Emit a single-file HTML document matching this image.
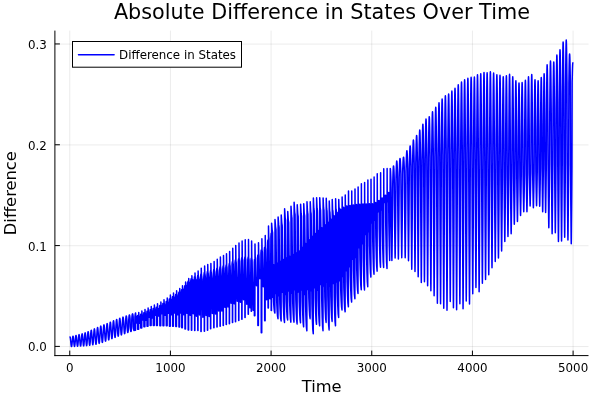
<!DOCTYPE html>
<html lang="en"><head><meta charset="utf-8"><title>Absolute Difference in States Over Time</title>
<style>html,body{margin:0;padding:0;background:#fff;}svg{display:block;}text{font-family:'DejaVu Sans','Liberation Sans',sans-serif;fill:#000;}</style></head><body>
<svg width="600" height="400" viewBox="0 0 600 400">
<rect width="600" height="400" fill="#fff"/>
<path d="M69.75 30.60V355.60M170.42 30.60V355.60M271.09 30.60V355.60M371.76 30.60V355.60M472.43 30.60V355.60M573.10 30.60V355.60M54.90 346.55H588.50M54.90 245.73H588.50M54.90 144.92H588.50M54.90 44.10H588.50" stroke="#000" stroke-opacity="0.08" stroke-width="1" fill="none"/>
<path d="M70.00 336.95L70.09 337.02L70.19 337.26L70.28 337.67L70.38 338.23L70.47 338.93L70.56 339.74L70.66 340.63L70.75 341.56L70.84 342.54L70.94 343.47L71.03 344.33L71.12 345.09L71.22 345.71L71.31 346.17L71.41 346.45L71.50 346.55L71.59 346.45L71.69 346.17L71.78 345.71L71.88 345.09L71.97 344.33L72.06 343.47L72.16 342.54L72.25 341.56L72.34 340.55L72.44 339.56L72.53 338.65L72.62 337.84L72.72 337.16L72.81 336.65L72.91 336.33L73.00 336.20L73.09 336.27L73.19 336.53L73.28 336.97L73.38 337.57L73.47 338.31L73.56 339.17L73.66 340.11L73.75 341.09L73.84 342.12L73.94 343.11L74.03 344.02L74.12 344.82L74.22 345.47L74.31 345.96L74.41 346.26L74.50 346.36L74.59 346.26L74.69 345.96L74.78 345.47L74.88 344.82L74.97 344.02L75.06 343.11L75.16 342.12L75.25 341.09L75.34 340.02L75.44 338.99L75.53 338.02L75.62 337.17L75.72 336.46L75.81 335.92L75.91 335.58L76.00 335.45L76.10 335.52L76.19 335.80L76.29 336.26L76.38 336.89L76.48 337.67L76.57 338.58L76.67 339.57L76.77 340.61L76.86 341.70L76.96 342.74L77.05 343.70L77.15 344.54L77.24 345.24L77.34 345.75L77.44 346.07L77.53 346.18L77.63 346.07L77.72 345.75L77.82 345.24L77.91 344.54L78.01 343.70L78.11 342.74L78.20 341.70L78.30 340.61L78.39 339.48L78.49 338.38L78.58 337.36L78.68 336.46L78.78 335.71L78.87 335.14L78.97 334.78L79.06 334.64L79.16 334.72L79.25 335.01L79.35 335.50L79.45 336.18L79.54 337.01L79.64 337.98L79.73 339.03L79.83 340.14L79.92 341.29L80.02 342.40L80.12 343.42L80.21 344.32L80.31 345.05L80.40 345.60L80.50 345.94L80.59 346.05L80.69 345.94L80.79 345.60L80.88 345.05L80.98 344.32L81.07 343.42L81.17 342.40L81.26 341.29L81.36 340.14L81.46 338.94L81.55 337.78L81.65 336.70L81.74 335.75L81.84 334.95L81.93 334.35L82.03 333.97L82.12 333.82L82.22 333.91L82.31 334.21L82.41 334.73L82.50 335.44L82.59 336.33L82.69 337.35L82.78 338.46L82.88 339.64L82.97 340.86L83.06 342.04L83.16 343.13L83.25 344.08L83.34 344.87L83.44 345.45L83.53 345.80L83.62 345.93L83.72 345.80L83.81 345.45L83.91 344.87L84.00 344.08L84.09 343.13L84.19 342.04L84.28 340.86L84.38 339.64L84.47 338.36L84.56 337.12L84.66 335.96L84.75 334.94L84.84 334.09L84.94 333.45L85.03 333.04L85.12 332.88L85.22 332.96L85.31 333.27L85.41 333.81L85.50 334.56L85.59 335.48L85.69 336.55L85.78 337.72L85.88 338.95L85.97 340.25L86.06 341.50L86.16 342.65L86.25 343.66L86.34 344.49L86.44 345.11L86.53 345.48L86.62 345.61L86.72 345.48L86.81 345.11L86.91 344.49L87.00 343.66L87.09 342.65L87.19 341.50L87.28 340.25L87.38 338.95L87.47 337.59L87.56 336.27L87.66 335.03L87.75 333.94L87.84 333.03L87.94 332.33L88.03 331.89L88.12 331.72L88.22 331.79L88.32 332.12L88.42 332.68L88.52 333.47L88.61 334.44L88.71 335.57L88.81 336.82L88.91 338.14L89.00 339.53L89.10 340.88L89.20 342.12L89.30 343.20L89.39 344.09L89.49 344.75L89.59 345.16L89.69 345.30L89.79 345.16L89.88 344.75L89.98 344.09L90.08 343.20L90.18 342.12L90.27 340.88L90.37 339.53L90.47 338.14L90.57 336.66L90.66 335.22L90.76 333.87L90.86 332.68L90.96 331.68L91.05 330.92L91.15 330.43L91.25 330.23L91.35 330.32L91.45 330.68L91.54 331.29L91.64 332.14L91.74 333.20L91.84 334.42L91.93 335.76L92.03 337.17L92.13 338.66L92.23 340.09L92.32 341.41L92.42 342.57L92.52 343.51L92.62 344.22L92.71 344.65L92.81 344.80L92.91 344.65L93.01 344.22L93.11 343.51L93.20 342.57L93.30 341.41L93.40 340.09L93.50 338.66L93.59 337.17L93.69 335.61L93.79 334.09L93.89 332.67L93.98 331.41L94.08 330.36L94.18 329.56L94.28 329.05L94.38 328.85L94.47 328.95L94.57 329.33L94.67 329.99L94.77 330.89L94.87 332.01L94.97 333.31L95.07 334.73L95.17 336.23L95.27 337.81L95.37 339.32L95.47 340.71L95.57 341.94L95.67 342.94L95.77 343.69L95.87 344.14L95.97 344.30L96.07 344.14L96.17 343.69L96.27 342.94L96.37 341.94L96.47 340.71L96.57 339.32L96.67 337.81L96.77 336.23L96.87 334.58L96.96 332.98L97.06 331.49L97.16 330.16L97.26 329.06L97.36 328.22L97.46 327.69L97.56 327.47L97.66 327.58L97.76 327.97L97.86 328.65L97.96 329.58L98.06 330.73L98.16 332.07L98.26 333.53L98.36 335.07L98.46 336.69L98.56 338.25L98.66 339.68L98.76 340.94L98.86 341.97L98.96 342.73L99.06 343.20L99.16 343.36L99.26 343.20L99.36 342.73L99.46 341.97L99.55 340.94L99.65 339.68L99.75 338.25L99.85 336.69L99.95 335.07L100.05 333.38L100.15 331.74L100.25 330.21L100.35 328.85L100.45 327.72L100.55 326.86L100.65 326.31L100.75 326.10L100.85 326.21L100.95 326.63L101.05 327.33L101.15 328.29L101.25 329.48L101.35 330.86L101.45 332.37L101.55 333.95L101.65 335.60L101.75 337.19L101.85 338.66L101.95 339.94L102.04 341.00L102.14 341.78L102.24 342.26L102.34 342.43L102.44 342.26L102.54 341.78L102.64 341.00L102.74 339.94L102.84 338.66L102.94 337.19L103.04 335.60L103.14 333.95L103.24 332.23L103.34 330.56L103.44 329.00L103.54 327.63L103.64 326.48L103.74 325.61L103.84 325.06L103.94 324.85L104.04 324.96L104.14 325.38L104.24 326.08L104.34 327.04L104.44 328.23L104.54 329.61L104.63 331.12L104.73 332.70L104.83 334.35L104.93 335.94L105.03 337.41L105.13 338.69L105.23 339.75L105.33 340.53L105.43 341.01L105.53 341.18L105.63 341.01L105.73 340.53L105.83 339.75L105.93 338.69L106.03 337.41L106.13 335.94L106.23 334.35L106.33 332.70L106.43 330.98L106.53 329.31L106.63 327.75L106.73 326.38L106.83 325.23L106.93 324.36L107.03 323.81L107.12 323.60L107.22 323.71L107.32 324.11L107.42 324.80L107.52 325.76L107.62 326.94L107.72 328.31L107.82 329.82L107.92 331.40L108.02 333.07L108.12 334.66L108.22 336.14L108.32 337.43L108.42 338.49L108.52 339.28L108.62 339.76L108.72 339.93L108.82 339.76L108.92 339.28L109.02 338.49L109.12 337.43L109.22 336.14L109.32 334.66L109.42 333.07L109.52 331.40L109.62 329.66L109.71 327.97L109.81 326.39L109.91 325.00L110.01 323.83L110.11 322.95L110.21 322.38L110.31 322.16L110.41 322.27L110.51 322.68L110.61 323.38L110.71 324.35L110.81 325.55L110.91 326.93L111.01 328.46L111.11 330.06L111.21 331.74L111.31 333.36L111.41 334.85L111.51 336.15L111.61 337.22L111.71 338.02L111.81 338.51L111.91 338.68L112.01 338.51L112.11 338.02L112.21 337.22L112.30 336.15L112.40 334.85L112.50 333.36L112.60 331.74L112.70 330.06L112.80 328.30L112.90 326.59L113.00 325.00L113.10 323.59L113.20 322.41L113.30 321.52L113.40 320.95L113.50 320.72L113.60 320.84L113.70 321.26L113.79 321.98L113.89 322.97L113.99 324.19L114.09 325.60L114.18 327.14L114.28 328.76L114.38 330.45L114.48 332.08L114.57 333.58L114.67 334.89L114.77 335.97L114.87 336.77L114.96 337.26L115.06 337.43L115.16 337.26L115.26 336.77L115.36 335.97L115.45 334.89L115.55 333.58L115.65 332.08L115.75 330.45L115.84 328.76L115.94 327.00L116.04 325.30L116.14 323.71L116.23 322.31L116.33 321.14L116.43 320.25L116.53 319.69L116.62 319.47L116.72 319.59L116.82 320.01L116.92 320.73L117.02 321.72L117.11 322.94L117.21 324.35L117.31 325.89L117.41 327.51L117.50 329.20L117.60 330.83L117.70 332.33L117.80 333.64L117.89 334.72L117.99 335.52L118.09 336.01L118.19 336.18L118.29 336.01L118.38 335.52L118.48 334.72L118.58 333.64L118.68 332.33L118.77 330.83L118.87 329.20L118.97 327.51L119.07 325.75L119.16 324.05L119.26 322.46L119.36 321.06L119.46 319.89L119.55 319.00L119.65 318.44L119.75 318.22L119.85 318.35L119.95 318.77L120.05 319.50L120.16 320.49L120.26 321.71L120.36 323.13L120.46 324.67L120.56 326.29L120.66 327.98L120.77 329.60L120.87 331.09L120.97 332.40L121.07 333.47L121.17 334.27L121.27 334.76L121.38 334.93L121.48 334.76L121.58 334.27L121.68 333.47L121.78 332.40L121.88 331.09L121.98 329.60L122.09 327.98L122.19 326.29L122.29 324.55L122.39 322.86L122.49 321.28L122.59 319.89L122.70 318.74L122.80 317.86L122.90 317.31L123.00 317.10L123.10 317.20L123.20 317.55L123.30 318.16L123.41 319.01L123.51 320.08L123.61 321.33L123.71 322.76L123.81 324.88L123.91 327.23L124.02 328.82L124.12 330.23L124.22 331.43L124.32 332.39L124.42 333.10L124.52 333.53L124.62 333.68L124.73 333.53L124.83 333.10L124.93 332.39L125.03 331.43L125.13 330.23L125.23 328.82L125.34 327.23L125.44 324.88L125.54 322.63L125.64 321.04L125.74 319.63L125.84 318.40L125.95 317.39L126.05 316.64L126.15 316.16L126.25 315.97L126.35 316.05L126.45 316.33L126.54 316.82L126.64 317.51L126.74 318.40L126.84 319.47L126.93 320.76L127.03 323.70L127.13 326.97L127.23 328.42L127.32 329.63L127.42 330.62L127.52 331.40L127.62 331.97L127.71 332.31L127.81 332.43L127.91 332.31L128.01 331.97L128.11 331.40L128.20 330.62L128.30 329.63L128.40 328.42L128.50 326.97L128.59 323.70L128.69 320.61L128.79 319.18L128.89 317.95L128.98 316.91L129.08 316.08L129.18 315.46L129.28 315.07L129.38 314.91L129.47 314.96L129.57 315.18L129.67 315.56L129.77 316.12L129.86 316.84L129.96 317.75L130.06 318.89L130.16 322.77L130.25 327.05L130.35 328.32L130.45 329.31L130.55 330.10L130.64 330.71L130.74 331.14L130.84 331.40L130.94 331.49L131.04 331.40L131.13 331.14L131.23 330.71L131.33 330.10L131.43 329.31L131.52 328.32L131.62 327.05L131.72 322.77L131.82 318.72L131.91 317.43L132.01 316.37L132.11 315.50L132.21 314.81L132.30 314.30L132.40 313.98L132.50 313.85L132.60 313.89L132.70 314.05L132.79 314.36L132.89 314.79L132.99 315.38L133.09 316.13L133.18 317.11L133.28 321.72L133.38 326.91L133.48 328.02L133.57 328.84L133.67 329.47L133.77 329.95L133.87 330.28L133.96 330.48L134.06 330.55L134.16 330.48L134.26 330.28L134.36 329.95L134.45 329.47L134.55 328.84L134.65 328.02L134.75 326.91L134.84 321.72L134.94 316.95L135.04 315.84L135.14 314.97L135.23 314.28L135.33 313.73L135.43 313.34L135.53 313.09L134.51 330.24L135.50 330.24L135.62 312.99L135.83 316.51L136.11 318.01L136.43 317.86L136.68 323.00L137.13 317.86L137.33 318.01L137.58 315.41L137.64 329.30L138.63 329.30L138.75 312.43L138.95 315.83L139.23 317.06L139.56 316.91L139.81 323.29L140.27 316.91L140.47 317.06L140.72 314.20L140.78 328.05L141.75 328.05L141.88 311.07L142.08 314.50L142.36 315.74L142.68 315.60L142.94 319.93L143.41 315.60L143.61 315.63L143.86 312.77L143.92 326.80L144.88 326.80L145.00 309.57L145.20 313.04L145.48 314.35L145.81 314.21L146.07 320.17L146.54 314.21L146.74 314.16L146.99 311.31L147.05 326.18L148.00 326.18L148.12 308.07L148.33 311.57L148.61 312.96L148.93 312.82L149.20 317.20L149.68 312.82L149.88 312.70L150.13 309.86L150.19 325.55L151.13 325.55L151.25 306.57L151.45 310.11L151.73 311.57L152.06 311.43L152.33 318.00L152.81 311.43L153.01 311.23L153.26 308.41L153.32 325.55L154.25 325.55L154.38 305.07L154.58 308.70L154.86 310.31L155.18 310.17L155.46 315.20L155.95 310.17L156.15 309.98L156.40 307.17L156.46 325.55L157.38 325.55L157.50 303.82L157.70 307.39L157.98 308.86L158.31 308.72L158.72 315.96L159.33 308.72L159.53 308.24L159.78 305.45L159.85 325.80L160.75 325.80L160.88 301.95L161.08 305.51L161.36 306.97L161.69 306.83L161.97 313.71L162.47 306.83L162.67 306.20L162.92 303.41L162.99 325.80L163.88 325.80L164.00 299.82L164.20 303.47L164.48 305.08L164.81 304.95L165.17 315.25L165.74 304.95L165.94 304.33L166.19 301.55L166.29 325.80L167.13 325.80L167.25 297.95L167.45 301.47L167.73 302.82L168.06 302.69L168.38 313.20L168.91 302.69L169.11 301.66L169.36 298.90L169.46 326.18L170.25 326.18L170.38 295.07L170.57 298.77L170.86 300.43L171.19 300.30L171.53 314.74L172.08 300.30L172.28 299.45L172.53 296.70L172.63 326.18L173.38 326.18L173.50 292.95L173.70 296.67L173.98 298.35L174.32 298.22L174.68 312.90L175.26 298.22L175.46 297.26L175.71 294.53L175.80 326.55L176.50 326.55L176.62 290.70L176.82 294.46L177.11 296.21L177.44 296.08L177.83 314.70L178.43 296.08L178.63 295.06L178.88 292.33L178.97 327.05L179.63 327.05L179.75 288.45L179.95 292.17L180.23 293.81L180.57 293.68L180.79 312.90L181.22 293.68L181.42 292.43L181.67 289.72L181.77 327.80L182.38 327.80L182.50 285.70L182.70 288.88L182.99 289.50L183.32 289.38L183.75 314.79L184.39 288.89L184.59 288.33L184.84 285.63L184.97 329.05L185.50 329.05L185.62 281.95L185.82 285.13L186.11 285.75L186.45 285.63L186.91 313.18L187.60 282.72L187.80 282.84L188.05 281.29L188.19 329.93L188.63 329.93L188.75 278.57L188.94 281.76L189.24 282.38L189.57 282.26L190.08 315.16L190.82 279.89L191.02 280.00L191.27 278.45L191.41 330.30L191.75 330.30L191.88 275.70L192.07 279.08L192.36 280.00L192.70 279.89L193.26 313.81L193.97 279.89L194.24 279.35L194.49 276.78L194.64 330.55L194.88 330.55L195.00 272.95L195.19 277.43L195.49 279.36L195.83 279.90L196.43 316.13L197.13 279.90L197.42 278.16L197.71 275.62L197.81 330.55L198.00 330.55L198.12 270.95L198.31 276.25L198.62 278.17L198.96 279.90L199.58 315.07L200.27 279.90L200.56 276.52L200.88 274.00L200.93 331.43L201.13 331.43L201.25 268.20L201.44 274.48L201.74 276.40L202.08 279.61L202.83 317.20L203.65 279.61L203.94 275.13L204.25 272.61L204.31 331.18L204.50 331.18L204.62 266.07L204.81 273.08L205.12 275.00L205.46 279.28L206.08 315.40L206.77 279.28L207.06 274.10L207.38 271.58L207.43 330.24L207.63 330.24L207.75 264.57L207.94 272.05L208.24 273.97L208.58 278.97L209.20 316.54L209.90 278.97L210.19 273.30L210.50 270.78L210.56 328.68L210.75 328.68L210.88 263.45L211.06 271.35L211.37 273.27L211.71 278.90L212.39 313.58L213.15 278.90L213.44 272.14L213.75 269.62L213.81 327.80L214.00 327.80L214.12 261.57L214.31 270.22L214.62 272.14L214.96 278.90L215.58 314.05L216.27 278.90L216.56 270.72L216.88 268.20L216.93 327.05L217.13 327.05L217.25 259.20L217.44 268.80L217.74 270.72L218.08 278.90L218.70 310.91L219.40 278.90L219.69 269.37L220.00 266.85L220.06 326.18L220.25 326.18L220.38 256.95L220.56 267.45L220.87 269.37L221.21 278.90L221.83 310.96L222.52 278.90L222.81 268.47L223.13 265.95L223.18 325.55L223.38 325.55L223.50 255.45L223.69 266.55L223.99 268.47L224.33 278.90L224.89 307.20L225.52 278.90L225.81 267.50L226.13 264.97L226.18 324.55L226.38 324.55L226.50 253.82L226.69 265.57L226.99 267.50L227.33 278.90L227.95 307.04L228.65 278.90L228.94 266.14L229.25 263.62L229.31 323.68L229.50 323.68L229.62 251.57L229.81 264.27L230.12 266.19L230.46 279.02L231.08 303.24L231.77 279.02L232.06 264.17L232.38 261.65L232.43 322.43L232.63 322.43L232.75 248.20L232.94 262.37L233.24 264.29L233.58 279.32L234.14 303.78L234.77 279.32L235.06 262.64L235.38 260.12L235.43 321.80L235.63 321.80L235.75 245.45L235.94 260.85L236.24 262.76L236.58 279.64L237.27 301.23L238.02 279.64L238.31 261.26L238.63 258.75L238.68 320.55L238.88 320.55L239.00 242.95L239.19 259.47L239.49 261.39L239.83 279.96L240.45 302.26L241.15 279.96L241.44 260.19L241.75 257.67L241.81 319.30L242.00 319.30L242.12 240.95L242.31 258.40L242.62 260.32L242.96 280.27L243.58 299.72L244.27 280.27L244.56 259.57L244.88 257.05L244.93 317.43L245.13 317.43L245.25 239.70L245.44 257.77L245.74 259.69L246.08 280.59L246.77 304.32L247.52 280.59L247.81 259.54L248.13 257.02L248.18 314.30L248.38 314.30L248.50 239.45L248.69 257.75L248.99 259.67L249.33 280.91L249.95 307.84L250.65 280.91L250.94 260.65L251.25 258.13L251.21 311.18L251.50 311.18L251.62 241.07L251.82 258.17L252.11 260.15L252.45 281.55L253.15 310.18L253.99 281.55L254.28 262.02L254.53 259.42L254.38 315.80L254.88 315.80L255.00 244.07L255.20 256.50L255.48 258.63L255.81 276.61L256.49 285.77L257.38 276.61L257.58 257.78L257.83 254.97L257.88 325.55L258.38 325.55L258.50 242.82L258.70 253.56L258.98 255.75L259.30 271.76L259.93 278.73L260.75 271.76L260.95 252.95L261.20 250.06L261.25 332.68L261.75 332.68L261.88 238.82L262.08 250.25L262.36 252.44L262.68 270.07L263.30 286.71L264.13 270.07L264.33 250.08L264.58 247.19L264.67 320.80L265.13 320.80L265.25 235.45L265.45 247.37L265.73 249.56L266.05 268.32L266.64 299.85L267.42 268.32L267.62 242.91L267.87 240.02L268.08 308.05L268.38 308.05L268.50 225.95L268.72 236.30L268.97 238.76L269.28 266.36L269.90 298.79L270.70 266.36L270.90 236.56L271.15 233.28L271.20 310.55L271.50 310.55L271.62 223.20L272.17 230.12L272.60 232.81L272.98 264.47L272.38 264.47L272.38 297.14L273.46 264.47L273.46 297.14L273.59 301.91L273.81 305.09L274.07 308.28L274.42 311.46L274.88 313.05L275.00 219.45L275.55 226.81L275.97 229.48L276.35 262.73L275.75 262.73L275.75 293.49L276.58 262.73L276.58 293.49L276.71 301.04L276.94 306.08L277.19 311.12L277.55 316.16L278.00 318.68L278.12 216.95L278.67 224.63L279.09 227.28L279.47 261.07L278.88 261.07L278.88 295.86L279.71 261.07L279.71 295.86L279.84 303.38L280.06 308.39L280.32 313.41L280.67 318.42L281.13 320.93L281.25 215.07L281.79 223.01L282.21 225.65L282.59 259.33L282.00 259.33L282.00 292.21L283.08 259.33L283.08 292.21L283.21 301.28L283.44 307.32L283.69 313.36L284.05 319.40L284.50 322.43L284.62 208.82L285.16 217.56L285.58 220.19L285.96 257.60L285.38 257.60L285.38 294.56L286.21 257.60L286.21 294.56L286.34 302.17L286.56 307.24L286.82 312.32L287.17 317.39L287.63 319.93L287.75 211.57L288.28 219.99L288.70 222.59L289.08 255.88L288.50 255.88L288.50 290.93L289.46 255.88L289.46 290.93L289.59 300.30L289.81 306.55L290.07 312.80L290.42 319.05L290.88 322.18L291.00 206.32L291.53 215.46L291.95 218.05L292.32 254.17L291.75 254.17L291.75 293.29L292.58 254.17L292.58 293.29L292.71 301.95L292.94 307.73L293.19 313.51L293.55 319.29L294.00 322.18L294.12 202.32L294.65 212.04L295.07 214.61L295.44 252.48L294.88 252.48L294.88 289.66L295.71 252.48L295.71 289.66L295.84 299.94L296.06 306.79L296.32 313.65L296.67 320.50L297.13 323.93L297.25 204.70L297.78 214.07L298.19 216.63L298.56 250.73L298.00 250.73L298.00 292.01L299.08 250.73L299.08 292.01L299.21 301.25L299.44 307.41L299.69 313.56L300.05 319.72L300.50 322.80L300.62 204.20L301.14 213.69L301.55 216.20L301.92 246.98L301.38 246.98L301.38 290.11L302.21 246.98L302.21 290.11L302.34 301.12L302.56 308.46L302.82 315.79L303.17 323.13L303.63 326.80L303.75 203.82L304.26 213.47L304.66 215.92L305.03 243.26L304.50 243.26L304.50 294.55L305.46 243.26L305.46 294.55L305.59 305.43L305.81 312.68L306.07 319.93L306.42 327.18L306.88 330.80L307.00 201.70L307.50 211.72L307.90 214.11L308.26 239.47L307.75 239.47L307.75 289.38L308.71 239.47L308.71 289.38L308.84 298.17L309.06 304.03L309.32 309.89L309.67 315.75L310.13 318.68L310.25 201.70L310.74 211.61L311.13 213.95L311.49 235.98L311.00 235.98L311.00 290.80L311.83 235.98L311.83 290.80L311.96 303.66L312.19 312.24L312.44 320.81L312.80 329.39L313.25 333.68L313.38 197.95L313.86 208.68L314.25 210.96L314.60 233.14L314.12 233.14L314.12 287.80L315.08 233.14L315.08 287.80L315.21 298.75L315.44 306.05L315.69 313.35L316.05 320.65L316.50 324.30L316.62 197.82L317.10 208.47L317.48 210.69L317.83 230.31L317.38 230.31L317.38 290.13L318.21 230.31L318.21 290.13L318.34 300.83L318.56 307.97L318.82 315.10L319.17 322.23L319.63 325.80L319.75 197.82L320.21 208.24L320.59 210.41L320.94 227.44L320.50 227.44L320.50 284.41L321.58 227.44L321.58 284.41L321.71 298.33L321.94 307.60L322.19 316.88L322.55 326.16L323.00 330.80L323.12 197.95L323.58 208.00L323.95 210.11L324.29 224.60L323.88 224.60L323.88 285.88L324.71 224.60L324.71 285.88L324.84 296.85L325.06 304.15L325.32 311.46L325.67 318.77L326.13 322.43L326.25 198.20L326.66 208.94L327.02 210.81L327.35 221.92L327.00 221.92L327.00 282.02L327.71 221.92L327.71 282.02L327.84 296.39L328.06 305.97L328.32 315.55L328.67 325.13L329.13 329.93L329.25 201.01L329.62 210.78L329.96 212.42L330.27 218.95L330.00 218.95L330.00 285.91L330.71 218.95L330.71 285.91L330.84 296.57L331.06 303.67L331.32 310.77L331.67 317.87L332.13 321.43L332.25 199.45L332.58 209.62L332.90 211.00L333.19 215.76L333.00 215.76L333.00 283.51L334.08 215.76L334.08 283.51L334.21 296.20L334.44 304.66L334.69 313.11L335.05 321.57L335.50 325.80L335.62 198.82L335.91 208.50L336.21 209.63L336.48 212.51L336.38 212.51L336.38 281.99L337.21 212.51L337.21 281.99L337.34 292.62L337.56 299.71L337.82 306.79L338.17 313.88L338.63 317.43L338.75 199.45L338.99 207.31L339.27 208.17L339.52 209.26L339.50 209.26L339.50 280.63L340.58 209.26L340.58 280.63L340.71 289.42L340.94 295.28L341.19 301.14L341.55 307.00L342.00 309.93L342.12 196.95L342.32 206.04L342.57 206.61L342.80 207.46L342.88 207.46L342.88 276.57L343.71 207.46L343.71 276.57L343.84 287.14L344.06 294.19L344.32 301.23L344.67 308.28L345.13 311.80L345.25 195.07L345.40 205.25L345.62 205.53L345.84 205.99L346.00 205.99L346.00 270.83L346.96 205.99L346.96 270.83L347.09 281.62L347.31 288.82L347.57 296.01L347.92 303.20L348.38 306.80L348.50 190.95L348.60 205.38L348.80 205.38L349.00 205.38L349.25 205.38L349.25 266.63L350.21 205.38L350.21 266.63L350.34 277.26L350.56 284.34L350.82 291.43L351.17 298.51L351.63 302.05L351.75 190.95L351.85 205.00L352.05 205.00L352.25 205.00L352.50 205.00L352.50 259.30L353.46 205.00L353.46 259.30L353.59 271.11L353.81 278.99L354.07 286.86L354.42 294.74L354.88 298.68L355.00 189.07L355.10 204.61L355.30 204.61L355.50 204.61L355.75 204.61L355.75 257.59L356.58 204.61L356.58 257.59L356.71 268.34L356.94 275.51L357.19 282.67L357.55 289.84L358.00 293.43L358.12 186.95L358.23 204.23L358.43 204.23L358.62 204.23L358.88 204.23L358.88 247.72L359.83 204.23L359.83 247.72L359.96 260.31L360.19 268.70L360.44 277.09L360.80 285.48L361.25 289.68L361.38 183.82L361.48 204.08L361.68 204.08L361.88 204.08L362.12 204.08L362.12 243.83L363.08 204.08L363.08 243.83L363.21 257.66L363.44 266.88L363.69 276.10L364.05 285.32L364.50 289.93L364.62 182.57L364.73 203.95L364.93 203.95L365.12 203.95L365.38 203.95L365.38 234.62L366.33 203.95L366.33 234.62L366.46 250.27L366.69 260.71L366.94 271.15L367.30 281.58L367.75 286.80L367.88 180.07L367.98 203.82L368.18 203.82L368.38 203.82L368.62 203.82L368.62 231.82L369.46 203.82L369.46 231.82L369.59 245.39L369.81 254.44L370.07 263.48L370.42 272.53L370.88 277.05L371.00 179.20L371.10 203.67L371.30 203.67L371.50 203.67L371.75 203.67L371.75 223.02L372.58 203.67L372.58 223.02L372.71 238.40L372.94 248.66L373.19 258.92L373.55 269.17L374.00 274.30L374.12 176.95L374.23 202.42L374.43 202.42L374.62 202.42L374.88 202.42L374.88 220.18L375.71 202.42L375.71 220.18L375.84 235.48L376.06 245.68L376.32 255.88L376.67 266.08L377.13 271.18L377.25 173.82L377.35 200.59L377.55 200.59L377.75 200.59L378.00 200.59L378.00 211.75L379.08 200.59L379.08 211.75L379.21 228.38L379.44 239.46L379.69 250.55L380.05 261.63L380.50 267.18L380.62 172.82L380.73 198.09L380.93 198.09L381.12 198.09L381.38 198.09L381.38 210.10L382.21 198.09L382.21 210.10L382.34 227.30L382.56 238.76L382.82 250.23L383.17 261.69L383.63 267.43L383.75 168.82L383.85 195.26L384.05 195.26L384.25 195.26L384.50 195.26L384.50 202.46L385.58 195.26L385.58 202.46L385.71 222.25L385.94 235.44L386.19 248.64L386.55 261.83L387.00 268.43L387.12 168.57L387.23 192.40L387.43 192.41L387.63 192.49L387.88 192.49L387.88 201.69L388.71 192.49L388.71 201.69L388.84 221.30L389.06 234.37L389.32 247.44L389.67 260.51L390.25 168.57L390.35 168.83L390.45 169.74L390.55 171.29L390.66 173.42L390.76 176.05L390.86 179.09L390.96 182.42L391.06 189.08L391.16 203.58L391.27 214.47L391.37 224.50L391.47 233.34L391.57 241.06L391.67 248.77L391.77 256.70L391.88 260.55L391.98 256.70L392.08 248.77L392.18 241.06L392.28 233.34L392.38 224.50L392.48 214.47L392.59 203.58L392.69 189.08L392.79 182.13L392.89 178.46L392.99 175.05L393.09 172.03L393.20 169.52L393.30 167.62L393.40 166.41L393.50 165.95L393.60 166.08L393.70 166.79L393.80 168.07L393.91 169.86L394.01 172.13L394.11 174.77L394.21 177.71L394.31 183.29L394.41 197.74L394.52 209.27L394.62 219.89L394.72 229.25L394.82 237.41L394.92 245.58L395.02 253.97L395.12 258.05L395.23 253.97L395.33 245.58L395.43 237.41L395.53 229.25L395.63 219.89L395.73 209.27L395.84 197.74L395.94 183.29L396.04 177.16L396.14 173.58L396.24 170.22L396.34 167.21L396.45 164.69L396.55 162.75L396.65 161.49L396.75 160.95L396.85 161.17L396.95 161.97L397.05 163.34L397.16 165.22L397.26 167.54L397.36 170.23L397.46 173.18L397.56 177.76L397.66 192.48L397.77 205.21L397.87 216.94L397.97 227.26L398.07 236.27L398.17 245.29L398.27 254.55L398.38 259.05L398.48 254.55L398.58 245.29L398.68 236.27L398.78 227.26L398.88 216.94L398.98 205.21L399.09 192.48L399.19 177.76L399.29 172.90L399.39 169.63L399.49 166.59L399.59 163.89L399.70 161.65L399.80 159.95L399.90 158.87L400.00 158.45L400.11 158.69L400.22 159.46L400.33 160.76L400.44 162.52L400.55 164.68L400.66 167.17L400.77 169.88L400.88 173.66L400.98 188.40L401.09 201.66L401.20 213.89L401.31 224.66L401.42 234.05L401.53 243.45L401.64 253.11L401.75 257.80L401.86 253.11L401.97 243.45L402.08 234.05L402.19 224.66L402.30 213.89L402.41 201.66L402.52 188.40L402.62 173.66L402.73 169.74L402.84 166.87L402.95 164.20L403.06 161.86L403.17 159.91L403.28 158.45L403.39 157.54L403.50 157.20L403.61 157.25L403.71 157.81L403.82 158.88L403.92 160.43L404.03 162.41L404.13 164.76L404.24 167.38L404.34 171.02L404.45 186.08L404.55 199.77L404.66 212.38L404.77 223.48L404.87 233.18L404.98 242.88L405.08 252.84L405.19 257.68L405.29 252.84L405.40 242.88L405.50 233.18L405.61 223.48L405.71 212.38L405.82 199.77L405.93 186.08L406.03 171.02L406.14 166.67L406.24 163.20L406.35 159.93L406.45 156.98L406.56 154.49L406.66 152.56L406.77 151.27L406.88 150.70L406.98 150.88L407.08 151.72L407.18 153.21L407.28 155.28L407.38 157.87L407.48 160.89L407.59 164.23L407.69 168.48L407.79 184.39L407.89 199.00L407.99 212.46L408.09 224.31L408.20 234.66L408.30 245.00L408.40 255.64L408.50 260.80L408.60 255.64L408.70 245.00L408.80 234.66L408.91 224.31L409.01 212.46L409.11 199.00L409.21 184.39L409.31 168.48L409.41 163.71L409.52 159.76L409.62 156.06L409.72 152.76L409.82 150.00L409.92 147.88L410.02 146.51L410.12 145.95L410.23 146.14L410.33 147.09L410.43 148.77L410.53 151.12L410.63 154.08L410.73 157.52L410.84 161.34L410.94 165.99L411.04 183.63L411.14 200.01L411.24 215.10L411.34 228.39L411.45 239.99L411.55 251.59L411.65 263.51L411.75 269.30L411.85 263.51L411.95 251.59L412.05 239.99L412.16 228.39L412.26 215.10L412.36 200.01L412.46 183.63L412.56 165.99L412.66 160.70L412.77 156.12L412.87 151.83L412.97 148.01L413.07 144.80L413.17 142.34L413.27 140.74L413.38 140.07L413.48 140.37L413.58 141.55L413.68 143.58L413.78 146.38L413.88 149.86L413.98 153.90L414.09 158.33L414.19 163.50L414.29 181.83L414.39 198.98L414.49 214.79L414.59 228.70L414.70 240.85L414.80 253.00L414.90 265.49L415.00 271.55L415.10 265.49L415.20 253.00L415.30 240.85L415.41 228.70L415.51 214.79L415.61 198.98L415.71 181.83L415.81 163.50L415.91 157.82L416.02 152.79L416.12 148.10L416.22 143.93L416.32 140.45L416.42 137.81L416.52 136.12L416.62 135.45L416.72 135.79L416.82 137.12L416.92 139.42L417.02 142.61L417.11 146.57L417.21 151.15L417.31 156.20L417.41 162.12L417.50 181.64L417.60 199.83L417.70 216.60L417.80 231.36L417.89 244.24L417.99 257.13L418.09 270.37L418.19 276.80L418.29 270.37L418.38 257.13L418.48 244.24L418.58 231.36L418.68 216.60L418.77 199.83L418.87 181.64L418.97 162.12L419.07 155.61L419.16 149.87L419.26 144.51L419.36 139.76L419.46 135.79L419.55 132.78L419.65 130.84L419.75 130.07L419.85 130.47L419.95 132.02L420.04 134.67L420.14 138.34L420.24 142.89L420.34 148.16L420.43 153.95L420.53 160.76L420.63 181.53L420.73 200.82L420.82 218.59L420.92 234.24L421.02 247.90L421.12 261.57L421.21 275.61L421.31 282.43L421.41 275.61L421.51 261.57L421.61 247.90L421.70 234.24L421.80 218.59L421.90 200.82L422.00 181.53L422.09 160.76L422.19 153.31L422.29 146.75L422.39 140.64L422.48 135.22L422.58 130.70L422.68 127.27L422.78 125.07L422.88 124.20L422.97 124.70L423.07 126.52L423.17 129.60L423.27 133.82L423.36 139.04L423.46 145.07L423.56 151.67L423.66 159.41L423.75 180.39L423.85 199.77L423.95 217.64L424.05 233.37L424.14 247.10L424.24 260.84L424.34 274.95L424.44 281.80L424.54 274.95L424.63 260.84L424.73 247.10L424.83 233.37L424.93 217.64L425.02 199.77L425.12 180.39L425.22 159.41L425.32 151.10L425.41 143.84L425.51 137.08L425.61 131.10L425.71 126.13L425.80 122.38L425.90 119.99L426.00 119.08L426.10 119.73L426.20 121.83L426.30 125.30L426.41 130.00L426.51 135.77L426.61 142.38L426.71 149.59L426.81 158.03L426.91 179.99L427.02 200.21L427.12 218.85L427.22 235.27L427.32 249.59L427.42 263.93L427.52 278.65L427.62 285.80L427.73 278.65L427.83 263.93L427.93 249.59L428.03 235.27L428.13 218.85L428.23 200.21L428.34 179.99L428.44 158.03L428.54 149.33L428.64 141.82L428.74 134.86L428.84 128.75L428.95 123.70L429.05 119.91L429.15 117.55L429.25 116.70L429.35 117.30L429.45 119.39L429.55 122.91L429.66 127.73L429.76 133.67L429.86 140.52L429.96 148.01L430.06 156.90L430.16 179.96L430.27 201.15L430.37 220.68L430.47 237.87L430.57 252.88L430.67 267.89L430.77 283.31L430.88 290.80L430.98 283.31L431.08 267.89L431.18 252.88L431.28 237.87L431.38 220.68L431.48 201.15L431.59 179.96L431.69 156.90L431.79 147.46L431.89 139.32L431.99 131.76L432.09 125.08L432.20 119.53L432.30 115.35L432.40 112.70L432.50 111.70L432.60 112.40L432.70 114.77L432.80 118.71L432.91 124.10L433.01 130.72L433.11 138.33L433.21 146.64L433.31 156.50L433.41 180.58L433.52 202.60L433.62 222.90L433.72 240.77L433.82 256.37L433.92 271.98L434.02 288.01L434.12 295.80L434.23 288.01L434.33 271.98L434.43 256.37L434.53 240.77L434.63 222.90L434.73 202.60L434.84 180.58L434.94 156.50L435.04 146.16L435.14 137.28L435.24 129.04L435.34 121.77L435.45 115.76L435.55 111.23L435.65 108.38L435.75 107.33L435.85 108.10L435.95 110.68L436.05 114.98L436.16 120.84L436.26 128.04L436.36 136.32L436.46 145.36L436.56 156.12L436.66 181.60L436.77 204.87L436.87 226.31L436.97 245.18L437.07 261.66L437.17 278.14L437.27 295.08L437.38 303.30L437.48 295.08L437.58 278.14L437.68 261.66L437.78 245.18L437.88 226.31L437.98 204.87L438.09 181.60L438.19 156.12L438.29 144.87L438.39 135.25L438.49 126.32L438.59 118.45L438.70 111.94L438.80 107.04L438.90 103.96L439.00 102.83L439.10 103.70L439.20 106.53L439.29 111.21L439.39 117.57L439.49 125.38L439.59 134.34L439.68 144.11L439.78 155.73L439.88 181.45L439.98 204.82L440.07 226.35L440.17 245.31L440.27 261.85L440.37 278.41L440.46 295.42L440.56 303.68L440.66 295.42L440.76 278.41L440.86 261.85L440.95 245.31L441.05 226.35L441.15 204.82L441.25 181.45L441.34 155.73L441.44 143.69L441.54 133.44L441.64 123.95L441.73 115.58L441.83 108.68L441.93 103.50L442.03 100.25L442.12 99.08L442.23 100.02L442.33 103.05L442.43 108.03L442.53 114.81L442.63 123.10L442.73 132.62L442.84 142.98L442.94 155.35L443.04 182.01L443.14 206.15L443.24 228.40L443.34 247.99L443.45 265.09L443.55 282.19L443.65 299.77L443.75 308.30L443.85 299.77L443.95 282.19L444.05 265.09L444.16 247.99L444.26 228.40L444.36 206.15L444.46 182.01L444.56 155.35L444.66 142.61L444.77 131.81L444.87 121.81L444.97 113.02L445.07 105.75L445.17 100.32L445.27 96.92L445.38 95.70L445.48 96.76L445.58 99.99L445.68 105.28L445.78 112.42L445.88 121.15L445.98 131.13L446.09 141.98L446.19 154.96L446.29 182.10L446.39 206.58L446.49 229.15L446.59 249.01L446.70 266.35L446.80 283.70L446.90 301.52L447.00 310.18L447.10 301.52L447.20 283.70L447.30 266.35L447.41 249.01L447.51 229.15L447.61 206.58L447.71 182.10L447.81 154.96L447.91 141.80L448.02 130.74L448.12 120.53L448.22 111.56L448.32 104.18L448.42 98.68L448.52 95.26L448.62 94.08L448.73 95.11L448.83 98.37L448.93 103.73L449.03 111.00L449.13 119.90L449.23 130.09L449.34 141.18L449.44 154.57L449.54 180.45L449.64 203.60L449.74 224.94L449.84 243.72L449.95 260.12L450.05 276.52L450.15 293.37L450.25 301.55L450.35 293.37L450.45 276.52L450.55 260.12L450.66 243.72L450.76 224.94L450.86 203.60L450.96 180.45L451.06 154.57L451.16 140.85L451.27 129.37L451.37 118.75L451.47 109.41L451.57 101.70L451.67 95.94L451.77 92.35L451.88 91.08L451.97 92.16L452.07 95.57L452.17 101.16L452.27 108.74L452.36 118.01L452.46 128.63L452.56 140.19L452.66 154.19L452.75 181.28L452.85 205.46L452.95 227.75L453.05 247.38L453.14 264.51L453.24 281.64L453.34 299.25L453.44 307.80L453.54 299.25L453.63 281.64L453.73 264.51L453.83 247.38L453.93 227.75L454.02 205.46L454.12 181.28L454.22 154.19L454.32 139.88L454.41 127.95L454.51 116.92L454.61 107.21L454.71 99.22L454.80 93.24L454.90 89.52L455.00 88.20L455.10 89.32L455.20 92.85L455.30 98.67L455.41 106.55L455.51 116.20L455.61 127.26L455.71 139.30L455.81 154.06L455.91 181.70L456.02 206.16L456.12 228.71L456.22 248.56L456.32 265.89L456.42 283.22L456.52 301.03L456.62 309.68L456.73 301.03L456.83 283.22L456.93 265.89L457.03 248.56L457.13 228.71L457.23 206.16L457.34 181.70L457.44 154.06L457.54 138.93L457.64 126.46L457.74 114.91L457.84 104.76L457.95 96.39L458.05 90.12L458.15 86.22L458.25 84.83L458.35 86.02L458.45 89.74L458.55 95.86L458.66 104.13L458.76 114.26L458.86 125.85L458.96 138.46L459.06 154.19L459.16 181.14L459.27 204.56L459.37 226.15L459.47 245.16L459.57 261.75L459.67 278.34L459.77 295.40L459.88 303.68L459.98 295.40L460.08 278.34L460.18 261.75L460.28 245.16L460.38 226.15L460.48 204.56L460.59 181.14L460.69 154.19L460.79 138.14L460.89 125.16L460.99 113.16L461.09 102.61L461.20 93.91L461.30 87.42L461.40 83.38L461.50 81.95L461.60 83.22L461.70 87.11L461.79 93.48L461.89 102.09L461.99 112.61L462.09 124.64L462.18 137.72L462.28 154.32L462.38 182.39L462.48 206.53L462.57 228.78L462.67 248.37L462.77 265.47L462.87 282.57L462.96 300.14L463.06 308.68L463.16 300.14L463.26 282.57L463.36 265.47L463.45 248.37L463.55 228.78L463.65 206.53L463.75 182.39L463.84 154.32L463.94 137.49L464.04 124.13L464.14 111.80L464.23 100.96L464.33 92.05L464.43 85.39L464.53 81.26L464.62 79.83L464.73 81.14L464.83 85.16L464.93 91.71L465.03 100.56L465.13 111.36L465.23 123.71L465.34 137.13L465.44 154.45L465.54 181.53L465.64 204.36L465.74 225.39L465.84 243.91L465.95 260.07L466.05 276.24L466.15 292.86L466.25 300.93L466.35 292.86L466.45 276.24L466.55 260.07L466.66 243.91L466.76 225.39L466.86 204.36L466.96 181.53L467.06 154.45L467.16 136.95L467.27 123.32L467.37 110.74L467.47 99.70L467.57 90.61L467.67 83.84L467.77 79.65L467.88 78.20L467.98 79.57L468.08 83.67L468.18 90.36L468.28 99.39L468.38 110.40L468.48 122.97L468.59 136.63L468.69 154.58L468.79 182.49L468.89 205.72L468.99 227.14L469.09 246.00L469.20 262.46L469.30 278.92L469.40 295.84L469.50 304.05L469.60 295.84L469.70 278.92L469.80 262.46L469.91 246.00L470.01 227.14L470.11 205.72L470.21 182.49L470.31 154.58L470.41 136.52L470.52 122.73L470.62 110.01L470.72 98.86L470.82 89.69L470.92 82.86L471.02 78.65L471.12 77.20L471.23 78.60L471.33 82.77L471.43 89.55L471.53 98.67L471.63 109.79L471.73 122.48L471.84 136.25L471.94 154.71L472.04 181.20L472.14 202.70L472.24 222.52L472.34 239.96L472.45 255.19L472.55 270.42L472.65 286.08L472.75 293.68L472.85 286.08L472.95 270.42L473.05 255.19L473.16 239.96L473.26 222.52L473.36 202.70L473.46 181.20L473.56 154.71L473.66 136.23L473.77 122.42L473.87 109.70L473.97 98.54L474.07 89.38L474.17 82.57L474.27 78.37L474.38 76.95L474.47 78.29L474.57 82.41L474.67 89.15L474.77 98.25L474.86 109.38L474.96 122.09L475.06 135.92L475.16 154.84L475.25 180.59L475.35 201.01L475.45 219.83L475.55 236.40L475.64 250.87L475.74 265.34L475.84 280.21L475.94 287.43L476.04 280.21L476.13 265.34L476.23 250.87L476.33 236.40L476.43 219.83L476.52 201.01L476.62 180.59L476.72 154.84L476.82 135.69L476.91 121.58L477.01 108.56L477.11 97.13L477.21 87.71L477.30 80.69L477.40 76.34L477.50 74.83L477.60 76.24L477.70 80.49L477.80 87.43L477.91 96.78L478.01 108.18L478.11 121.20L478.21 135.35L478.31 154.97L478.41 181.74L478.52 202.78L478.62 222.17L478.72 239.24L478.82 254.14L478.92 269.05L479.02 284.36L479.12 291.80L479.23 284.36L479.33 269.05L479.43 254.14L479.53 239.24L479.63 222.17L479.73 202.78L479.84 181.74L479.94 154.97L480.04 135.24L480.14 120.96L480.24 107.80L480.34 96.25L480.45 86.75L480.55 79.69L480.65 75.32L480.75 73.83L480.85 75.25L480.95 79.55L481.05 86.57L481.16 96.03L481.26 107.57L481.36 120.76L481.46 135.09L481.56 155.30L481.66 180.94L481.77 200.51L481.87 218.54L481.97 234.42L482.07 248.28L482.17 262.14L482.27 276.38L482.38 283.30L482.48 276.38L482.58 262.14L482.68 248.28L482.78 234.42L482.88 218.54L482.98 200.51L483.09 180.94L483.19 155.30L483.29 134.95L483.39 120.46L483.49 107.09L483.59 95.36L483.70 85.72L483.80 78.54L483.90 74.10L484.00 72.58L484.10 74.07L484.20 78.48L484.29 85.64L484.39 95.27L484.49 107.01L484.59 120.39L484.68 134.91L484.78 155.70L484.88 180.98L484.98 199.83L485.07 217.19L485.17 232.48L485.27 245.82L485.37 259.17L485.46 272.89L485.56 279.55L485.66 272.89L485.76 259.17L485.86 245.82L485.95 232.48L486.05 217.19L486.15 199.83L486.25 180.98L486.34 155.70L486.44 134.93L486.54 120.45L486.64 107.10L486.73 95.41L486.83 85.81L486.93 78.69L487.03 74.30L487.12 72.83L487.23 74.27L487.33 78.63L487.43 85.74L487.53 95.33L487.63 107.03L487.73 120.39L487.84 134.90L487.94 156.09L488.04 180.84L488.14 198.78L488.24 215.31L488.34 229.86L488.45 242.57L488.55 255.28L488.65 268.33L488.75 274.68L488.85 268.33L488.95 255.28L489.05 242.57L489.16 229.86L489.26 215.31L489.36 198.78L489.46 180.84L489.56 156.09L489.66 134.77L489.77 120.12L489.87 106.60L489.97 94.73L490.07 84.98L490.17 77.73L490.27 73.24L490.38 71.70L490.48 73.24L490.58 77.73L490.68 84.99L490.78 94.74L490.88 106.61L490.98 120.13L491.09 134.78L491.19 156.50L491.29 180.38L491.39 197.09L491.49 212.49L491.59 226.05L491.70 237.89L491.80 249.73L491.90 261.89L492.00 267.80L492.10 261.89L492.20 249.73L492.30 237.89L492.41 226.05L492.51 212.49L492.61 197.09L492.71 180.38L492.81 156.50L492.91 134.91L493.02 120.42L493.12 107.08L493.22 95.41L493.32 85.84L493.42 78.74L493.52 74.39L493.62 72.95L493.73 74.48L493.83 78.92L493.93 86.07L494.03 95.67L494.13 107.35L494.23 120.64L494.34 135.04L494.44 156.91L494.54 180.00L494.64 195.56L494.74 209.91L494.84 222.54L494.95 233.56L495.05 244.59L495.15 255.92L495.25 261.43L495.35 255.92L495.45 244.59L495.55 233.56L495.66 222.54L495.76 209.91L495.86 195.56L495.96 180.00L496.06 156.91L496.16 135.24L496.27 121.06L496.37 108.01L496.47 96.60L496.57 87.25L496.67 80.33L496.77 76.09L496.88 74.70L496.97 76.17L497.07 80.47L497.17 87.44L497.27 96.81L497.36 108.22L497.46 121.23L497.56 135.34L497.66 157.30L497.75 180.10L497.85 195.00L497.95 208.74L498.05 220.83L498.14 231.38L498.24 241.94L498.34 252.78L498.44 258.05L498.54 252.78L498.63 241.94L498.73 231.38L498.83 220.83L498.93 208.74L499.02 195.00L499.12 180.10L499.22 157.30L499.32 135.40L499.41 121.38L499.51 108.46L499.61 97.14L499.71 87.86L499.80 80.97L499.90 76.74L500.00 75.33L500.10 76.80L500.20 81.08L500.30 87.99L500.41 97.27L500.51 108.56L500.61 121.42L500.71 135.36L500.81 157.54L500.91 179.45L501.02 193.11L501.12 205.71L501.22 216.79L501.32 226.47L501.42 236.15L501.52 246.10L501.62 250.93L501.73 246.10L501.83 236.15L501.93 226.47L502.03 216.79L502.13 205.71L502.23 193.11L502.34 179.45L502.44 157.54L502.54 135.51L502.64 121.75L502.74 109.09L502.84 98.00L502.95 88.92L503.05 82.19L503.15 78.06L503.25 76.70L503.35 78.07L503.45 82.19L503.54 88.89L503.64 97.94L503.74 108.98L503.84 121.58L503.93 135.27L504.03 157.62L504.13 178.28L504.23 190.35L504.32 201.47L504.42 211.27L504.52 219.82L504.62 228.37L504.71 237.16L504.81 241.43L504.91 237.16L505.01 228.37L505.11 219.82L505.20 211.27L505.30 201.47L505.40 190.35L505.50 178.28L505.59 157.62L505.69 135.16L505.79 121.34L505.89 108.59L505.98 97.41L506.08 88.22L506.18 81.38L506.28 77.15L506.38 75.70L506.47 77.07L506.57 81.21L506.67 87.97L506.77 97.10L506.87 108.24L506.97 120.97L507.07 134.80L507.17 157.70L507.27 177.84L507.37 189.04L507.47 199.36L507.57 208.45L507.67 216.38L507.77 224.31L507.87 232.47L507.97 236.43L508.07 232.47L508.17 224.31L508.27 216.38L508.37 208.45L508.47 199.36L508.57 189.04L508.67 177.84L508.77 157.70L508.87 134.63L508.96 120.61L509.06 107.66L509.16 96.30L509.26 86.96L509.36 80.00L509.46 75.69L509.56 74.20L509.66 75.71L509.76 80.03L509.86 86.98L509.96 96.30L510.06 107.61L510.16 120.48L510.26 134.42L510.36 157.78L510.46 177.78L510.56 188.47L510.66 198.31L510.76 206.98L510.86 214.55L510.96 222.12L511.06 229.90L511.16 233.68L511.26 229.90L511.36 222.12L511.46 214.55L511.55 206.98L511.65 198.31L511.75 188.47L511.85 177.78L511.95 157.78L512.05 134.70L512.15 121.08L512.25 108.56L512.35 97.62L512.45 88.67L512.55 82.05L512.65 78.01L512.75 76.70L512.85 78.20L512.95 82.40L513.04 89.12L513.14 98.10L513.24 108.99L513.34 121.35L513.43 134.72L513.53 157.86L513.63 176.62L513.73 185.74L513.82 194.14L513.92 201.53L514.02 207.99L514.12 214.44L514.21 221.08L514.31 224.30L514.41 221.08L514.51 214.44L514.61 207.99L514.70 201.53L514.80 194.14L514.90 185.74L515.00 176.62L515.09 157.86L515.19 135.16L515.29 122.31L515.39 110.52L515.48 100.22L515.58 91.83L515.68 85.64L515.78 81.88L515.88 80.70L515.97 82.07L516.07 85.97L516.17 92.26L516.27 100.69L516.36 110.92L516.46 122.57L516.56 135.17L516.66 157.94L516.75 176.54L516.85 185.12L516.95 193.03L517.05 199.99L517.14 206.07L517.24 212.15L517.34 218.39L517.44 221.43L517.54 218.39L517.63 212.15L517.73 206.07L517.83 199.99L517.93 193.03L518.02 185.12L518.12 176.54L518.22 157.94L518.32 135.42L518.41 123.10L518.51 111.78L518.61 101.88L518.71 93.78L518.80 87.79L518.90 84.14L519.00 82.95L519.10 84.18L519.20 87.87L519.29 93.85L519.39 101.91L519.49 111.74L519.59 122.96L519.68 135.14L519.78 157.87L519.88 175.82L519.98 183.42L520.07 190.42L520.17 196.58L520.27 201.96L520.37 207.34L520.46 212.87L520.56 215.55L520.66 212.87L520.76 207.34L520.86 201.96L520.95 196.58L521.05 190.42L521.15 183.42L521.25 175.82L521.34 157.87L521.44 135.10L521.54 122.87L521.64 111.60L521.73 101.72L521.83 93.60L521.93 87.56L522.03 83.84L522.12 82.58L522.23 83.74L522.33 87.33L522.43 93.22L522.53 101.17L522.63 110.90L522.73 122.03L522.84 134.13L522.94 157.12L523.04 174.85L523.14 181.91L523.24 188.42L523.34 194.15L523.45 199.16L523.55 204.16L523.65 209.30L523.75 211.80L523.85 209.30L523.95 204.16L524.05 199.16L524.16 194.15L524.26 188.42L524.36 181.91L524.46 174.85L524.56 157.12L524.66 133.89L524.77 121.49L524.87 110.04L524.97 99.98L525.07 91.70L525.17 85.51L525.27 81.67L525.38 80.33L525.47 81.47L525.57 85.09L525.67 91.06L525.77 99.15L525.86 109.06L525.96 120.41L526.06 132.78L526.16 156.38L526.25 174.49L526.35 181.62L526.45 188.20L526.55 193.98L526.64 199.03L526.74 204.09L526.84 209.28L526.94 211.80L527.04 209.28L527.13 204.09L527.23 199.03L527.33 193.98L527.43 188.20L527.52 181.62L527.62 174.49L527.72 156.38L527.82 132.38L527.91 119.55L528.01 107.67L528.11 97.23L528.21 88.61L528.30 82.16L528.40 78.14L528.50 76.70L528.60 77.94L528.70 81.74L528.80 87.97L528.91 96.40L529.01 106.69L529.11 118.47L529.21 131.28L529.31 155.64L529.41 173.16L529.52 179.43L529.62 185.20L529.72 190.28L529.82 194.72L529.92 199.15L530.02 203.71L530.12 205.93L530.23 203.71L530.33 199.15L530.43 194.72L530.53 190.28L530.63 185.20L530.73 179.43L530.84 173.16L530.94 155.64L531.04 131.03L531.14 117.93L531.24 105.83L531.34 95.20L531.45 86.45L531.55 79.92L531.65 75.87L531.75 74.45L531.85 75.94L531.95 80.01L532.05 86.50L532.16 95.15L532.26 105.61L532.36 117.48L532.46 130.29L532.56 154.88L532.66 173.11L532.77 179.74L532.87 185.85L532.97 191.23L533.07 195.93L533.17 200.63L533.27 205.46L533.38 207.80L533.48 205.46L533.58 200.63L533.68 195.93L533.78 191.23L533.88 185.85L533.98 179.74L534.09 173.11L534.19 154.88L534.29 130.86L534.39 118.73L534.49 107.62L534.59 97.93L534.70 90.05L534.80 84.26L534.90 80.77L535.00 79.70L535.10 80.92L535.20 84.46L535.29 90.18L535.39 97.87L535.49 107.22L535.59 117.88L535.68 129.44L535.78 153.09L535.88 171.56L535.98 178.10L536.07 184.14L536.17 189.45L536.27 194.08L536.37 198.72L536.46 203.49L536.56 205.80L536.66 203.49L536.76 198.72L536.86 194.08L536.95 189.45L537.05 184.14L537.15 178.10L537.25 171.56L537.34 153.09L537.44 129.55L537.54 118.12L537.64 107.61L537.73 98.40L537.83 90.86L537.93 85.27L538.03 81.84L538.12 80.70L538.22 81.71L538.32 84.91L538.42 90.17L538.52 97.30L538.61 106.03L538.71 116.04L538.81 126.94L538.91 150.28L539.00 169.53L539.10 176.54L539.20 182.99L539.30 188.68L539.39 193.64L539.49 198.60L539.59 203.70L539.69 206.18L539.79 203.70L539.88 198.60L539.98 193.64L540.08 188.68L540.18 182.99L540.27 176.54L540.37 169.53L540.47 150.28L540.57 126.60L540.66 115.29L540.76 104.84L540.86 95.64L540.96 88.05L541.05 82.38L541.15 78.84L541.25 77.58L541.34 78.57L541.43 81.75L541.52 87.01L541.61 94.15L541.70 102.91L541.79 112.95L541.88 123.89L541.97 147.58L542.06 168.46L542.15 176.75L542.24 184.38L542.33 191.10L542.42 196.97L542.51 202.84L542.60 208.87L542.69 211.80L542.78 208.87L542.87 202.84L542.96 196.97L543.05 191.10L543.14 184.38L543.23 176.75L543.32 168.46L543.41 147.58L543.50 123.48L543.59 112.05L543.68 101.48L543.77 92.17L543.86 84.48L543.95 78.72L544.04 75.12L544.12 73.83L544.22 74.66L544.31 77.72L544.41 82.91L544.50 90.03L544.59 98.84L544.69 109.01L544.78 120.17L544.88 144.44L544.97 166.19L545.06 175.03L545.16 183.17L545.25 190.35L545.34 196.61L545.44 202.87L545.53 209.30L545.62 212.43L545.72 209.30L545.81 202.87L545.91 196.61L546.00 190.35L546.09 183.17L546.19 175.03L546.28 166.19L546.38 144.44L546.47 119.18L546.56 106.86L546.66 95.41L546.75 85.26L546.84 76.83L546.94 70.45L547.03 66.39L547.12 64.83L547.23 65.89L547.34 69.28L547.44 74.87L547.55 82.45L547.65 91.75L547.76 102.41L547.86 114.02L547.97 139.02L548.07 164.49L548.18 176.59L548.29 187.74L548.39 197.56L548.50 206.14L548.60 214.71L548.71 223.52L548.81 227.80L548.92 223.52L549.02 214.71L549.13 206.14L549.23 197.56L549.34 187.74L549.45 176.59L549.55 164.49L549.66 139.02L549.76 113.60L549.87 101.51L549.97 90.32L550.08 80.46L550.18 72.33L550.29 66.24L550.39 62.44L550.50 61.08L550.60 62.27L550.70 65.75L550.80 71.39L550.91 78.96L551.01 88.17L551.11 98.67L551.21 110.05L551.31 135.41L551.41 162.99L551.52 176.50L551.62 188.95L551.72 199.92L551.82 209.49L551.92 219.06L552.02 228.90L552.12 233.68L552.23 228.90L552.33 219.06L552.43 209.49L552.53 199.92L552.63 188.95L552.73 176.50L552.84 162.99L552.94 135.41L553.04 110.15L553.14 98.88L553.24 88.51L553.34 79.42L553.45 71.98L553.55 66.46L553.65 63.07L553.75 61.95L553.85 62.83L553.95 65.87L554.04 70.98L554.14 77.96L554.24 86.57L554.34 96.48L554.43 107.33L554.53 133.02L554.63 161.51L554.73 175.14L554.82 187.70L554.92 198.76L555.02 208.41L555.12 218.06L555.21 227.98L555.31 232.80L555.41 227.98L555.51 218.06L555.61 208.41L555.70 198.76L555.80 187.70L555.90 175.14L556.00 161.51L556.09 133.02L556.19 106.57L556.29 94.84L556.39 83.94L556.48 74.31L556.58 66.33L556.68 60.31L556.78 56.51L556.88 55.08L556.97 56.02L557.07 59.16L557.17 64.38L557.27 71.49L557.36 80.24L557.46 90.28L557.56 101.25L557.66 129.66L557.75 162.32L557.85 177.44L557.95 191.38L558.05 203.65L558.14 214.36L558.24 225.07L558.34 236.08L558.44 241.43L558.54 236.08L558.63 225.07L558.73 214.36L558.83 203.65L558.93 191.38L559.02 177.44L559.12 162.32L559.22 129.66L559.32 100.67L559.41 89.03L559.51 78.23L559.61 68.71L559.71 60.83L559.80 54.92L559.90 51.19L560.00 49.83L560.10 50.66L560.20 53.64L560.29 58.67L560.39 65.57L560.49 74.08L560.59 83.91L560.68 94.66L560.78 126.01L560.88 161.80L560.98 176.93L561.07 190.87L561.17 203.14L561.27 213.85L561.37 224.57L561.46 235.58L561.56 240.93L561.66 235.58L561.76 224.57L561.86 213.85L561.95 203.14L562.05 190.87L562.15 176.93L562.25 161.80L562.34 126.01L562.44 93.80L562.54 82.02L562.64 71.08L562.73 61.39L562.83 53.35L562.93 47.28L563.03 43.42L563.12 41.95L563.22 42.99L563.32 46.20L563.42 51.45L563.52 58.55L563.61 67.22L563.71 77.14L563.81 87.93L563.91 123.04L564.00 161.87L564.10 176.26L564.20 189.53L564.30 201.21L564.39 211.41L564.49 221.61L564.59 232.09L564.69 237.18L564.79 232.09L564.88 221.61L564.98 211.41L565.08 201.21L565.18 189.53L565.27 176.26L565.37 161.87L565.47 123.04L565.57 87.73L565.66 76.69L565.76 66.50L565.86 57.55L565.96 50.18L566.05 44.68L566.15 41.27L566.25 40.08L566.36 41.50L566.46 44.85L566.57 49.94L566.67 56.56L566.78 64.43L566.88 73.22L566.99 82.58L567.09 120.06L567.20 163.23L567.30 177.89L567.41 191.40L567.52 203.30L567.62 213.68L567.73 224.07L567.83 234.74L567.94 239.93L568.04 234.74L568.15 224.07L568.25 213.68L568.36 203.30L568.46 191.40L568.57 177.89L568.68 163.23L568.78 120.06L568.89 84.11L568.99 76.57L569.10 69.77L569.20 63.99L569.31 59.40L569.41 56.16L569.52 54.38L569.62 54.08L569.73 54.98L569.83 57.12L569.93 60.38L570.03 64.62L570.13 69.67L570.23 75.31L570.34 81.31L570.44 119.03L570.54 166.03L570.64 180.88L570.74 194.55L570.84 206.60L570.95 217.11L571.05 227.62L571.15 238.43L571.25 243.68L571.35 238.43L571.45 227.62L571.55 217.11L571.66 206.60L571.76 194.55L571.86 180.88L571.96 166.03L572.06 119.03L572.16 82.27L572.27 77.40L572.37 73.01L572.47 69.26L572.57 66.29L572.67 64.19L572.77 63.03L572.88 62.83" stroke="#0000ff" stroke-width="1.5" stroke-linejoin="round" stroke-linecap="round" fill="none"/>
<path d="M54.40 355.60H588.50M54.90 30.60V356.10M69.75 355.60V350.60M170.42 355.60V350.60M271.09 355.60V350.60M371.76 355.60V350.60M472.43 355.60V350.60M573.10 355.60V350.60M54.90 346.40H59.90M54.90 245.58H59.90M54.90 144.77H59.90M54.90 43.95H59.90" stroke="#000" stroke-width="1" fill="none"/>
<text transform="translate(69.75 371.9) rotate(0.001)" font-size="11.85" text-anchor="middle">0</text>
<text transform="translate(170.42 371.9) rotate(0.001)" font-size="11.85" text-anchor="middle">1000</text>
<text transform="translate(271.09 371.9) rotate(0.001)" font-size="11.85" text-anchor="middle">2000</text>
<text transform="translate(371.76 371.9) rotate(0.001)" font-size="11.85" text-anchor="middle">3000</text>
<text transform="translate(472.43 371.9) rotate(0.001)" font-size="11.85" text-anchor="middle">4000</text>
<text transform="translate(573.10 371.9) rotate(0.001)" font-size="11.85" text-anchor="middle">5000</text>
<text transform="translate(46.8 351.40) rotate(0.001)" font-size="11.85" text-anchor="end">0.0</text>
<text transform="translate(46.8 250.58) rotate(0.001)" font-size="11.85" text-anchor="end">0.1</text>
<text transform="translate(46.8 149.77) rotate(0.001)" font-size="11.85" text-anchor="end">0.2</text>
<text transform="translate(46.8 48.95) rotate(0.001)" font-size="11.85" text-anchor="end">0.3</text>
<text transform="translate(321.9 18.6) rotate(0.001)" font-size="20.76" text-anchor="middle">Absolute Difference in States Over Time</text>
<text transform="translate(321.7 391.6) rotate(0.001)" font-size="16.3" text-anchor="middle">Time</text>
<text transform="translate(16.2 193.2) rotate(-90)" font-size="16.3" text-anchor="middle">Difference</text>
<rect x="72.5" y="41.5" width="169" height="25.7" fill="#fff" stroke="#000" stroke-width="1"/>
<rect x="77.8" y="53.9" width="37" height="1.5" rx="0.6" fill="#00f"/>
<text transform="translate(119.1 59.25) rotate(0.001)" font-size="11.85">Difference in States</text>
</svg></body></html>
